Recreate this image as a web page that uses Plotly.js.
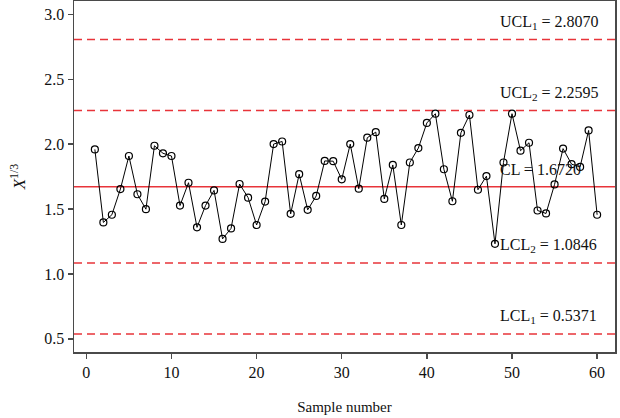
<!DOCTYPE html>
<html>
<head>
<meta charset="utf-8">
<script src="https://cdn.plot.ly/plotly-3.0.1.min.js"></script>
<style>
  html, body { margin: 0; padding: 0; background: #fff; }
  #chart { width: 620px; height: 418px; }
</style>
</head>
<body>
<div id="chart"></div>
<script>
// sample values (cube-root transformed)
var sampleNo = [];
for (var i = 1; i <= 60; i++) sampleNo.push(i);
var xCube = [
  1.960, 1.397, 1.456, 1.654, 1.909, 1.614, 1.499, 1.988, 1.930, 1.909,
  1.527, 1.703, 1.359, 1.527, 1.644, 1.270, 1.351, 1.693, 1.588, 1.377,
  1.558, 2.001, 2.021, 1.463, 1.769, 1.494, 1.601, 1.871, 1.869, 1.729,
  2.001, 1.657, 2.050, 2.093, 1.578, 1.840, 1.377, 1.859, 1.970, 2.164,
  2.235, 1.807, 1.560, 2.088, 2.225, 1.649, 1.754, 1.232, 1.859, 2.235,
  1.950, 2.011, 1.489, 1.466, 1.690, 1.966, 1.846, 1.825, 2.106, 1.456
];

// control limits
var limitNames  = ['UCL<sub>1</sub>', 'UCL<sub>2</sub>', 'CL', 'LCL<sub>2</sub>', 'LCL<sub>1</sub>'];
var limitValues = [2.8070, 2.2595, 1.6720, 1.0846, 0.5371];
var limitLabels = ['2.8070', '2.2595', '1.6720', '1.0846', '0.5371'];

var RED = '#e8343a';
var AXIS = '#4a4a4a';
var FONT = 'Liberation Serif, Times New Roman, serif';

var shapes = limitValues.map(function(v, k) {
    return {
        type: 'line', xref: 'paper', x0: 0, x1: 1, yref: 'y', y0: v, y1: v,
        layer: 'below',
        line: {color: RED, width: 1.5, dash: limitNames[k] === 'CL' ? 'solid' : '8px,5px'}
    };
});

var annotations = limitValues.map(function(v, k) {
    return {
        x: 48.3, y: v, xref: 'x', yref: 'y',
        xanchor: 'left', yanchor: 'middle',
        yshift: 17, showarrow: false,
        text: limitNames[k] + ' = ' + limitLabels[k],
        font: {family: FONT, size: 16, color: '#111'}
    };
});

var data = [{
    x: sampleNo,
    y: xCube,
    type: 'scatter',
    mode: 'lines+markers',
    line: {color: '#000', width: 1},
    marker: {symbol: 'circle-open', size: 7, color: '#000', line: {width: 1.2, color: '#000'}},
    hoverinfo: 'x+y'
}];

var layout = {
    width: 620, height: 418,
    margin: {l: 74, r: 5, t: 1, b: 66},
    paper_bgcolor: '#fff', plot_bgcolor: '#fff',
    showlegend: false,
    font: {family: FONT, size: 16, color: '#111'},
    xaxis: {
        range: [-1.45, 62.1],
        tickvals: [0, 10, 20, 30, 40, 50, 60],
        ticks: 'outside', ticklen: 5, tickwidth: 1.5, tickcolor: AXIS,
        showline: true, linecolor: AXIS, linewidth: 1.5, mirror: true,
        showgrid: false, zeroline: false,
        title: {text: 'Sample number', font: {family: FONT, size: 15}, standoff: 22}
    },
    yaxis: {
        range: [0.398, 3.104],
        tickvals: [0.5, 1.0, 1.5, 2.0, 2.5, 3.0],
        tickformat: '.1f',
        ticks: 'outside', ticklen: 5, tickwidth: 1.5, tickcolor: AXIS,
        showline: true, linecolor: AXIS, linewidth: 1.5, mirror: true,
        showgrid: false, zeroline: false,
        title: {text: '<i>X</i><sup>1/3</sup>', font: {family: FONT, size: 17}, standoff: 14}
    },
    shapes: shapes,
    annotations: annotations
};

Plotly.newPlot('chart', data, layout, {displayModeBar: false, staticPlot: true});
</script>
</body>
</html>
